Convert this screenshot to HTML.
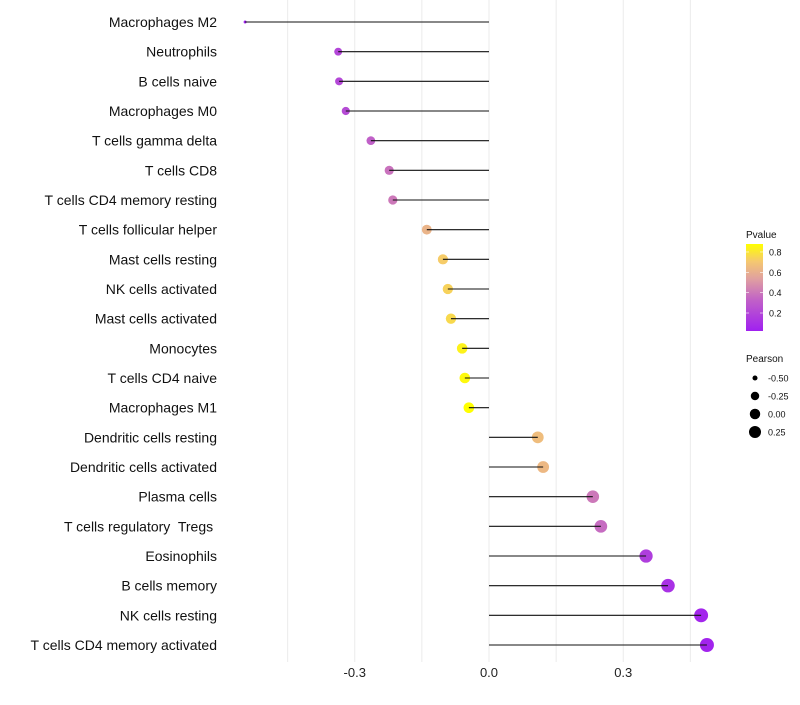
<!DOCTYPE html>
<html><head><meta charset="utf-8"><style>
body{margin:0;background:#fff;font-family:"Liberation Sans",sans-serif}
text{white-space:pre}
</style></head><body>
<svg id="chart" width="800" height="700" xmlns="http://www.w3.org/2000/svg">
<defs><linearGradient id="pg" x1="0" y1="1" x2="0" y2="0">
<stop offset="0" stop-color="#a020f0"/><stop offset="0.35" stop-color="#c060c8"/><stop offset="0.6" stop-color="#e0a0a0"/><stop offset="0.8" stop-color="#f5c870"/><stop offset="1" stop-color="#ffff00"/></linearGradient></defs>
<g id="grid"></g><g id="marks"></g><g id="labels"></g><g id="legend"></g>
</svg>
<script>
const categories=["Macrophages M2","Neutrophils","B cells naive","Macrophages M0","T cells gamma delta","T cells CD8","T cells CD4 memory resting","T cells follicular helper","Mast cells resting","NK cells activated","Mast cells activated","Monocytes","T cells CD4 naive","Macrophages M1","Dendritic cells resting","Dendritic cells activated","Plasma cells","T cells regulatory  Tregs ","Eosinophils","B cells memory","NK cells resting","T cells CD4 memory activated"];
const pearson=[-0.545,-0.337,-0.335,-0.320,-0.264,-0.223,-0.215,-0.139,-0.103,-0.092,-0.085,-0.060,-0.054,-0.045,0.109,0.121,0.232,0.250,0.351,0.400,0.474,0.487];
const pvalue=[0.02,0.2,0.21,0.22,0.32,0.38,0.4,0.62,0.72,0.74,0.76,0.84,0.86,0.88,0.66,0.64,0.4,0.36,0.16,0.1,0.05,0.04];
const xTicks=[-0.3,0,0.3];
const xTickLabels=["-0.3","0.0","0.3"];
const gridVals=[-0.45,-0.3,-0.15,0,0.15,0.3,0.45];
const pTicks=[0.2,0.4,0.6,0.8];
const sizeTicks=[-0.5,-0.25,0,0.25];
const NS="http://www.w3.org/2000/svg";
const X=v=>489+v*447.5;
const Y=i=>22+i*29.667;
const R=v=>{const f=Math.max(0,(v+0.545)/1.032);return 1.5+5.5*Math.sqrt(f);};
const stops=[[0,[160,32,240]],[0.35,[192,96,200]],[0.6,[224,160,160]],[0.8,[245,200,112]],[1,[255,255,0]]];
function col(p){const t=Math.max(0,Math.min(1,(p-0.02)/0.86));for(let i=1;i<stops.length;i++){if(t<=stops[i][0]){const a=stops[i-1],b=stops[i],f=(t-a[0])/(b[0]-a[0]);return "rgb("+a[1].map((c,k)=>Math.round(c+(b[1][k]-c)*f)).join(",")+")";}}return "rgb(255,255,0)";}
function mk(tag,attrs,parent,text){const e=document.createElementNS(NS,tag);for(const k in attrs)e.setAttribute(k,attrs[k]);if(text!==undefined)e.textContent=text;document.getElementById(parent).appendChild(e);return e;}
gridVals.forEach(v=>{const e=mk("line",{x1:X(v),x2:X(v),y1:0,y2:662,stroke:"#ebebeb","stroke-width":1},"grid");

});
xTicks.forEach((v,i)=>{const t=mk("text",{x:X(v),y:677,"text-anchor":"middle","font-size":13,fill:"#222"},"labels",xTickLabels[i]);

});
categories.forEach((c,i)=>{const y=Y(i),v=pearson[i];
const d=mk("circle",{cx:X(v),cy:y,r:R(v),fill:col(pvalue[i])},"marks");


const l=mk("line",{x1:X(0),x2:X(v),y1:y,y2:y,stroke:"#111","stroke-width":1.1},"marks");


const t=mk("text",{x:217,y:y+5,"text-anchor":"end","font-size":14,fill:"#111"},"labels",c);

});
const lt=mk("text",{x:746,y:238,"font-size":10,fill:"#111"},"legend","Pvalue");


const cb=mk("rect",{x:746,y:244,width:17,height:87,fill:"url(#pg)"},"legend");


const PY=p=>313-(p-0.2)*101.7;
pTicks.forEach(p=>{mk("line",{x1:746,x2:749,y1:PY(p),y2:PY(p),stroke:"#fff","stroke-width":0.6},"legend");mk("line",{x1:760,x2:763,y1:PY(p),y2:PY(p),stroke:"#fff","stroke-width":0.6},"legend");
const t=mk("text",{x:769,y:PY(p)+3.5,"font-size":9,fill:"#111"},"legend",p.toFixed(1));

});
const st=mk("text",{x:746,y:362,"font-size":10,fill:"#111"},"legend","Pearson");


sizeTicks.forEach((v,i)=>{const y=378+i*18;
const c=mk("circle",{cx:755,cy:y,r:R(v)*0.95,fill:"#000"},"legend");


const t=mk("text",{x:768,y:y+3.5,"font-size":9,fill:"#111"},"legend",v.toFixed(2));

});
</script>
</body></html>
